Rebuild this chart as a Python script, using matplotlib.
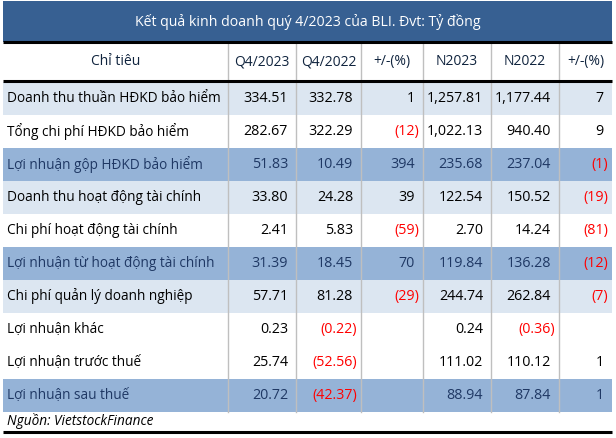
import matplotlib
matplotlib.use("Agg")
import matplotlib.pyplot as plt
from matplotlib.patches import Rectangle

plt.rcParams['font.family'] = ['Open Sans', 'Noto Sans', 'DejaVu Sans']

title = "Kết quả kinh doanh quý 4/2023 của BLI. Đvt: Tỷ đồng"
source = "Nguồn: VietstockFinance"
headers = ["Chỉ tiêu", "Q4/2023", "Q4/2022", "+/-(%)", "N2023", "N2022", "+/-(%)"]
rows = ["Doanh thu thuần HĐKD bảo hiểm", "Tổng chi phí HĐKD bảo hiểm",
        "Lợi nhuận gộp HĐKD bảo hiểm", "Doanh thu hoạt động tài chính",
        "Chi phí hoạt động tài chính", "Lợi nhuận từ hoạt động tài chính",
        "Chi phí quản lý doanh nghiệp", "Lợi nhuận khác",
        "Lợi nhuận trước thuế", "Lợi nhuận sau thuế"]
q4_2023 = [334.51, 282.67, 51.83, 33.80, 2.41, 31.39, 57.71, 0.23, 25.74, 20.72]
q4_2022 = [332.78, 322.29, 10.49, 24.28, 5.83, 18.45, 81.28, -0.22, -52.56, -42.37]
chg_q = [1, -12, 394, 39, -59, 70, -29, None, None, None]
n2023 = [1257.81, 1022.13, 235.68, 122.54, 2.70, 119.84, 244.74, 0.24, 111.02, 88.94]
n2022 = [1177.44, 940.40, 237.04, 150.52, 14.24, 136.28, 262.84, -0.36, 110.12, 87.84]
chg_n = [7, 9, -1, -19, -81, -12, -7, None, 1, 1]
row_style = ["light", "white", "dark", "light", "white", "dark", "light", "white", "white", "dark"]

# layout (pixels)
W, H = 616, 438
x_edges = [3, 228, 296, 361, 423, 491, 559, 612]
title_top, title_bot = 1, 42
head_top, head_bot = 42, 81
row_h = 33
fills = {"light": "#DCE6F1", "white": "#FFFFFF", "dark": "#95B3D7"}
txt_col = {"light": "#000000", "white": "#000000", "dark": "#1F3864"}
FS = 9.8
FS_NUM = 10.3

fig = plt.figure(figsize=(W / 100, H / 100), dpi=100)
ax = fig.add_axes([0, 0, 1, 1])
ax.set_xlim(0, W)
ax.set_ylim(H, 0)
ax.axis("off")

# title bar
ax.add_patch(Rectangle((x_edges[0], title_top), x_edges[-1] - x_edges[0], title_bot - title_top,
                       facecolor="#376092", edgecolor="none"))
ax.text((x_edges[0] + x_edges[-1]) / 2, (title_top + title_bot) / 2 + 1, title, color="white",
        fontsize=10.2, ha="center", va="center")

# header
hy = (head_top + head_bot) / 2
for i, h in enumerate(headers):
    ax.text((x_edges[i] + x_edges[i + 1]) / 2, hy, h, fontsize=10.0, ha="center", va="center",
            color="#10243E")


def fmt(v, dec):
    if v is None:
        return "", False
    s = f"{abs(v):,.{dec}f}"
    if v < 0:
        return f"({s})", True
    return s, False


cols = [(q4_2023, 2), (q4_2022, 2), (chg_q, 0), (n2023, 2), (n2022, 2), (chg_n, 0)]
data_top = head_bot + 1
for r, name in enumerate(rows):
    y0 = data_top + r * row_h
    st = row_style[r]
    ax.add_patch(Rectangle((x_edges[0], y0), x_edges[-1] - x_edges[0], row_h,
                           facecolor=fills[st], edgecolor="none"))
    yc = y0 + row_h / 2
    ax.text(x_edges[0] + 4, yc, name, fontsize=FS, ha="left", va="center", color=txt_col[st])
    for c, (vals, dec) in enumerate(cols):
        s, neg = fmt(vals[r], dec)
        if not s:
            continue
        xr = x_edges[c + 2] - (4 if neg else 8)
        ax.text(xr, yc, s, fontsize=FS_NUM, ha="right", va="center",
                color="#FF0000" if neg else txt_col[st])

data_bot = data_top + len(rows) * row_h

# vertical grid lines
for x in x_edges[1:-1]:
    ax.plot([x, x], [head_top + 2, data_bot], color="#BFBFBF", lw=1.0, zorder=3)

# black rules
ax.plot([x_edges[0], x_edges[-1]], [head_top, head_top], color="black", lw=2.2, zorder=4,
        solid_capstyle="butt")
ax.plot([x_edges[0], x_edges[-1]], [head_bot, head_bot], color="black", lw=2.2, zorder=4,
        solid_capstyle="butt")
ax.plot([x_edges[0], x_edges[-1]], [432, 432], color="black", lw=2.2, zorder=4,
        solid_capstyle="butt")

ax.text(x_edges[0] + 4, 421, source, fontsize=FS, style="italic", ha="left", va="center",
        color="black")

fig.savefig("out.png", dpi=100)
